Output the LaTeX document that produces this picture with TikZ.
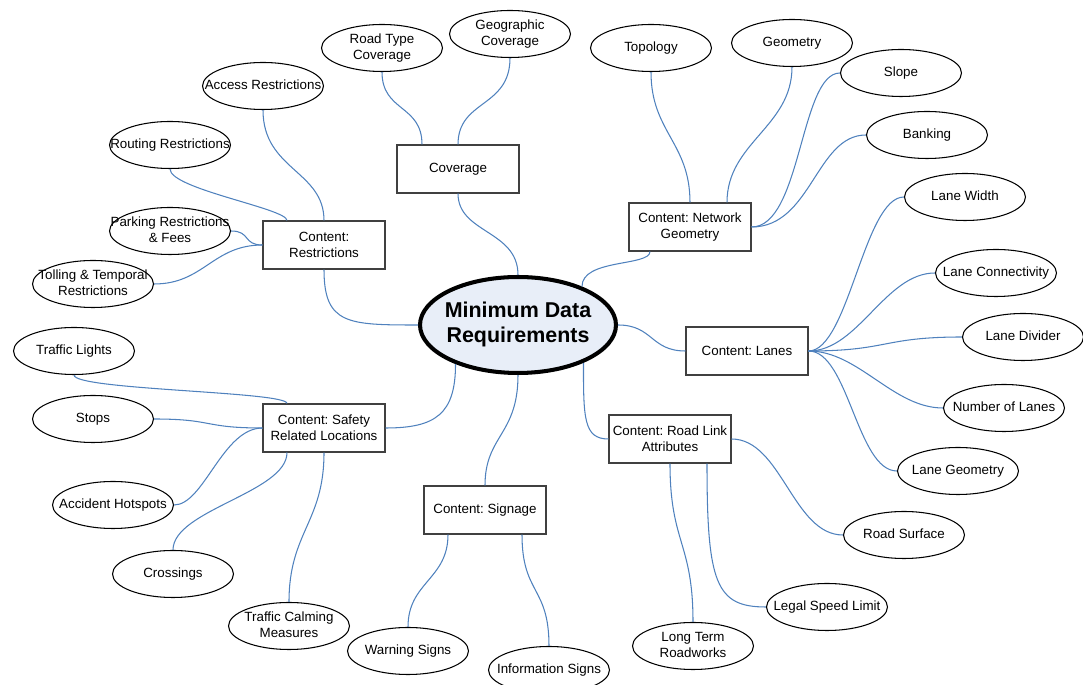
\documentclass[tikz,border=0pt]{standalone}
\usepackage{fontspec}
\setmainfont{Liberation Sans}
\usetikzlibrary{shapes.geometric}
\frenchspacing
\definecolor{linkblue}{RGB}{79,129,189}
\definecolor{mainfill}{RGB}{232,238,248}
\definecolor{boxgray}{RGB}{64,64,64}
\newcommand{\fit}[1]{\makebox[0pt]{\raisebox{-0.3mm}{\begin{tabular}{@{}c@{}}#1\end{tabular}}}}
\begin{document}
\begin{tikzpicture}[x=0.02cm,y=-0.02cm,
    link/.style = {linkblue,line width=0.6pt},
    topic/.style = {draw=boxgray,fill=white,line width=0.6pt,align=center,
        minimum width=24.4mm,minimum height=9.6mm,inner sep=1pt,
        font=\fontsize{7.6}{9.1}\selectfont},
    leaf/.style = {ellipse,draw,fill=white,line width=0.6pt,inner sep=0pt,
        minimum width=24.2mm,minimum height=9.4mm,
        font=\fontsize{7.6}{9.1}\selectfont},
    root/.style = {ellipse,draw,fill=mainfill,line width=2.3pt,inner sep=0pt,
        minimum width=39.2mm,minimum height=19.2mm,
        font=\fontsize{12.2}{14.2}\selectfont\bfseries}]
    \useasboundingbox (0,0) rectangle (1083,685);

    \node[root] (main) at (518,325) {\fit{Minimum Data\\Requirements}};

    \node[topic] (cov)   at (458,169) {Coverage};
    \node[topic] (rest)  at (324,245) {Content:\\Restrictions};
    \node[topic] (ng)    at (690,227) {Content: Network\\Geometry};
    \node[topic] (lanes) at (747,351) {Content: Lanes};
    \node[topic] (rl)    at (670,439) {Content: Road Link\\Attributes};
    \node[topic] (safe)  at (324,428) {Content: Safety\\Related Locations};
    \node[topic] (sign)  at (485,510) {Content: Signage};

    \node[leaf] (rtc)   at (382,48)  {\fit{Road Type\\Coverage}};
    \node[leaf] (geo)   at (510,34)  {\fit{Geographic\\Coverage}};
    \node[leaf] (accr)  at (263,86)  {\fit{Access Restrictions}};
    \node[leaf] (rout)  at (170,145) {\fit{Routing Restrictions}};
    \node[leaf] (park)  at (170,231) {\fit{Parking Restrictions\\\& Fees}};
    \node[leaf] (toll)  at (93,284)  {\fit{Tolling \& Temporal\\Restrictions}};
    \node[leaf] (topo)  at (651,48)  {\fit{Topology}};
    \node[leaf] (geom)  at (792,43)  {\fit{Geometry}};
    \node[leaf] (slope) at (901,73)  {\fit{Slope}};
    \node[leaf] (bank)  at (927,135) {\fit{Banking}};
    \node[leaf] (lw)    at (965,197) {\fit{Lane Width}};
    \node[leaf] (lc)    at (996,273) {\fit{Lane Connectivity}};
    \node[leaf] (ld)    at (1023,337) {\fit{Lane Divider}};
    \node[leaf] (nl)    at (1004,408) {\fit{Number of Lanes}};
    \node[leaf] (lg)    at (958,471) {\fit{Lane Geometry}};
    \node[leaf] (surf)  at (904,535) {\fit{Road Surface}};
    \node[leaf] (speed) at (827,607) {\fit{Legal Speed Limit}};
    \node[leaf] (ltr)   at (693,646) {\fit{Long Term\\Roadworks}};
    \node[leaf] (tl)    at (74,351)  {\fit{Traffic Lights}};
    \node[leaf] (stops) at (93,419)  {\fit{Stops}};
    \node[leaf] (hot)   at (113,505) {\fit{Accident Hotspots}};
    \node[leaf] (cross) at (173,574) {\fit{Crossings}};
    \node[leaf] (calm)  at (289,626) {\fit{Traffic Calming\\Measures}};
    \node[leaf] (warn)  at (408,651) {\fit{Warning Signs}};
    \node[leaf] (info)  at (549,670) {\fit{Information Signs}};

    \draw[link] (cov.south) .. controls +(0,40) and +(0,-45) .. (main.north);
    \draw[link] (rest.south) .. controls +(0,55) and +(-70,0) .. (main.west);
    \draw[link] (main.31) .. controls +(0,-28) and +(0,15) .. ([shift={(-40,0)}]ng.south);
    \draw[link] (main.east) .. controls +(35,0) and +(-35,0) .. (lanes.west);
    \draw[link] (main.330) .. controls +(0,55) and +(-25,0) .. (rl.west);
    \draw[link] (main.south) .. controls +(0,60) and +(0,-50) .. (sign.north);
    \draw[link] (main.212) .. controls +(0,50) and +(50,0) .. (safe.east);

    \draw[link] (rtc.south) .. controls +(0,40) and +(0,-40) .. ([shift={(-36,0)}]cov.north);
    \draw[link] (geo.south) .. controls +(0,50) and +(0,-45) .. (cov.north);

    \draw[link] (accr.south) .. controls +(0,60) and +(0,-50) .. (rest.north);
    \draw[link] (rout.south) .. controls +(0,20) and +(0,-12) .. ([shift={(-37,0)}]rest.north);
    \draw[link] (park.east) .. controls +(20,0) and +(-20,0) .. (rest.west);
    \draw[link] (toll.east) .. controls +(50,0) and +(-50,0) .. (rest.west);

    \draw[link] (topo.south) .. controls +(0,60) and +(0,-60) .. (ng.north);
    \draw[link] (geom.south) .. controls +(0,60) and +(0,-60) .. ([shift={(37,0)}]ng.north);
    \draw[link] (slope.west) .. controls +(-40,0) and +(50,0) .. (ng.east);
    \draw[link] (bank.west) .. controls +(-50,0) and +(60,0) .. (ng.east);

    \draw[link] (lanes.east) .. controls +(40,0) and +(-40,0) .. (lw.west);
    \draw[link] (lanes.east) .. controls +(50,0) and +(-50,0) .. (lc.west);
    \draw[link] (lanes.east) .. controls +(80,0) and +(-80,0) .. (ld.west);
    \draw[link] (lanes.east) .. controls +(50,0) and +(-50,0) .. (nl.west);
    \draw[link] (lanes.east) .. controls +(40,0) and +(-40,0) .. (lg.west);

    \draw[link] (rl.east) .. controls +(50,0) and +(-50,0) .. (surf.west);
    \draw[link] ([shift={(37,0)}]rl.south) .. controls +(0,120) and +(-50,0) .. (speed.west);
    \draw[link] (rl.south) .. controls +(0,80) and +(0,-80) .. (ltr.north);

    \draw[link] (tl.south) .. controls +(0,15) and +(0,-12) .. ([shift={(-37,0)}]safe.north);
    \draw[link] (stops.east) .. controls +(60,0) and +(-60,0) .. (safe.west);
    \draw[link] (hot.east) .. controls +(30,0) and +(-40,0) .. (safe.west);
    \draw[link] (cross.north) .. controls +(0,-40) and +(0,40) .. ([shift={(-37,0)}]safe.south);
    \draw[link] (calm.north) .. controls +(0,-70) and +(0,70) .. (safe.south);

    \draw[link] (warn.north) .. controls +(0,-45) and +(0,45) .. ([shift={(-37,0)}]sign.south);
    \draw[link] (info.north) .. controls +(0,-60) and +(0,60) .. ([shift={(37,0)}]sign.south);
\end{tikzpicture}
\end{document}
